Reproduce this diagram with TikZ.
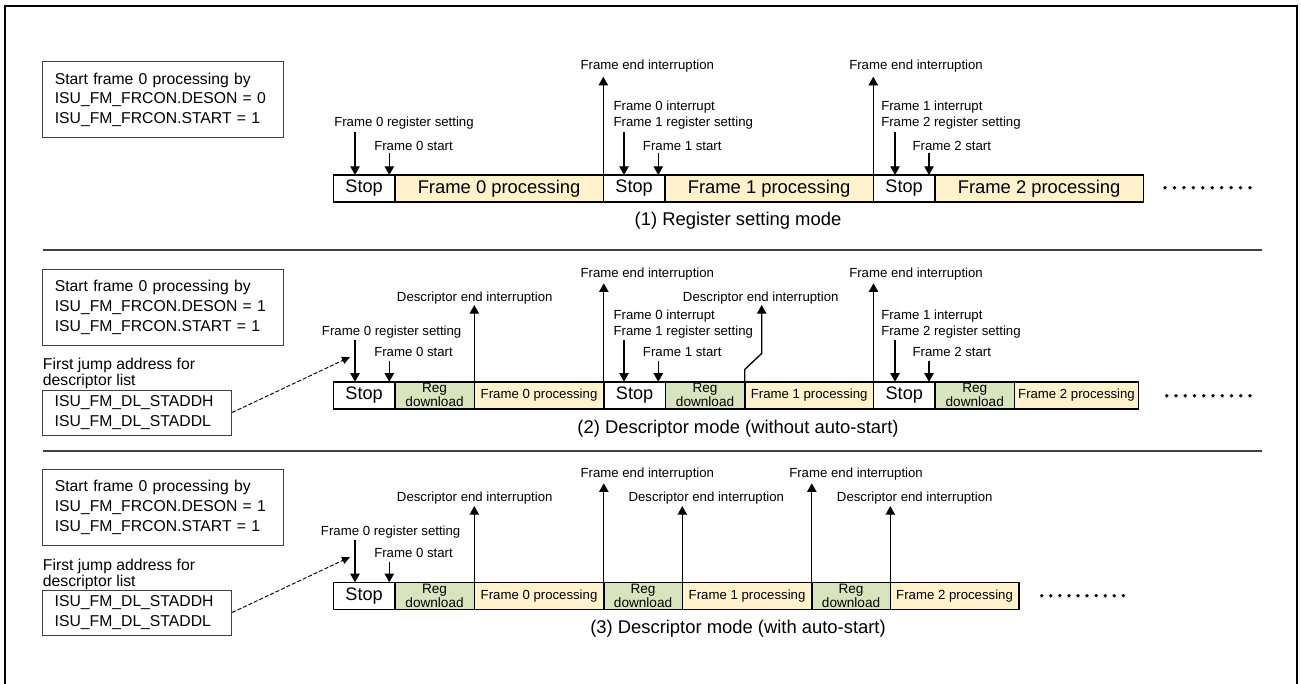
\documentclass[tikz,border=0pt]{standalone}
\usepackage{fontspec}
\setmainfont{Liberation Sans}
\usetikzlibrary{positioning,arrows.meta}
\definecolor{procfill}{HTML}{FFF2CC}
\definecolor{regfill}{HTML}{D7E4BD}
\definecolor{rulegray}{HTML}{404040}
\newdimen\pxu
\pxu=0.75pt
\tikzset{
  seg/.style={draw, line width=1.1pt, outer sep=0pt, inner sep=0pt, minimum height=27\pxu, anchor=west},
  stopseg/.style={seg, fill=white, font=\fontsize{13.6}{14}\selectfont},
  bigproc/.style={seg, fill=procfill, font=\fontsize{13.8}{14}\selectfont},
  proc/.style={seg, fill=procfill, font=\fontsize{9.9}{11}\selectfont},
  regseg/.style={seg, fill=regfill, align=center, font=\fontsize{10.2}{9.4}\selectfont},
  lbl/.style={anchor=west, inner sep=0pt, align=left, font=\fontsize{9.9}{12}\selectfont},
  modecap/.style={inner sep=0pt, font=\fontsize{13.8}{16}\selectfont},
  setbox/.style={draw=rulegray, line width=0.75pt, align=left, inner xsep=12\pxu, inner ysep=0pt, font=\fontsize{11.8}{14.8}\selectfont},
  jumpnote/.style={anchor=west, inner sep=0pt, align=left, font=\fontsize{11.8}{10.5}\selectfont},
  sig/.style={-{Triangle[length=6.5pt,width=7pt]}, line width=1pt},
  jump/.style={-{Triangle[length=6pt,width=5.5pt]}, line width=0.7pt, dash pattern=on 3pt off 1.5pt}
}
\begin{document}
\begin{tikzpicture}[x=0.75pt, y=-0.75pt]
  \useasboundingbox (0,0) rectangle (1301,684);
  \draw[line width=1.8pt] (5,690) -- (5,6) -- (1297,6) -- (1297,690);
  \draw[rulegray, line width=0.8pt] (43,250) -- (1262,250);
  \draw[rulegray, line width=0.8pt] (43,451) -- (1262,451);

  % (1) register setting mode
  \node[setbox, text width=217\pxu, minimum height=76\pxu] (cfg1) at (163.3,99.8) {Start frame 0 processing by\\ISU\_FM\_FRCON.DESON = 0\\ISU\_FM\_FRCON.START = 1};

  \node[stopseg, minimum width=61.5\pxu] (s1stopA) at (333.3,188.5) {Stop};
  \node[bigproc, minimum width=208.5\pxu, right=0pt of s1stopA] (s1frameA) {Frame 0 processing};
  \node[stopseg, minimum width=61.5\pxu, right=0pt of s1frameA] (s1stopB) {Stop};
  \node[bigproc, minimum width=208.5\pxu, right=0pt of s1stopB] (s1frameB) {Frame 1 processing};
  \node[stopseg, minimum width=61.5\pxu, right=0pt of s1frameB] (s1stopC) {Stop};
  \node[bigproc, minimum width=208.5\pxu, right=0pt of s1stopC] (s1frameC) {Frame 2 processing};

  \node[lbl] (l1setA) at (334,123.3) {Frame 0 register setting};
  \node[lbl] (l1goA) at (374,145.7) {Frame 0 start};
  \node[lbl] (l1endA) at (580.3,66) {Frame end interruption};
  \node[lbl] (l1setB) at (613.3,115.3) {Frame 0 interrupt\\Frame 1 register setting};
  \node[lbl] (l1goB) at (642.7,145.7) {Frame 1 start};
  \node[lbl] (l1endB) at (849,66) {Frame end interruption};
  \node[lbl] (l1setC) at (881,115.3) {Frame 1 interrupt\\Frame 2 register setting};
  \node[lbl] (l1goC) at (912.3,145.7) {Frame 2 start};
  \node[modecap] (cap1) at (738,220.7) {(1) Register setting mode};

  \coordinate (t1end) at (0,76.7);
  \coordinate (a1setA) at (355,131.7);
  \coordinate (a1goA) at (389.3,153);
  \coordinate (a1setB) at (624,131.7);
  \coordinate (a1goB) at (658.3,153);
  \coordinate (a1setC) at (895,131.7);
  \coordinate (a1goC) at (929,153);
  \draw[sig] (a1setA) -- (a1setA |- s1stopA.north);
  \draw[sig] (a1goA) -- (a1goA |- s1stopA.north);
  \draw[sig] (a1setB) -- (a1setB |- s1stopB.north);
  \draw[sig] (a1goB) -- (a1goB |- s1stopB.north);
  \draw[sig] (a1setC) -- (a1setC |- s1stopC.north);
  \draw[sig] (a1goC) -- (a1goC |- s1stopC.north);
  \draw[sig] (s1frameA.north east) -- (s1frameA.north east |- t1end);
  \draw[sig] (s1frameB.north east) -- (s1frameB.north east |- t1end);
  \foreach \k in {0,...,9} \fill (1165+9.44*\k,187.7) circle (1.4pt);

  % (2) descriptor mode without auto-start
  \node[setbox, text width=217\pxu, minimum height=76\pxu] (cfg2) at (163.3,307.3) {Start frame 0 processing by\\ISU\_FM\_FRCON.DESON = 1\\ISU\_FM\_FRCON.START = 1};
  \node[jumpnote] (jmp2) at (42.7,373.7) {First jump address for\\descriptor list};
  \node[setbox, text width=165\pxu, minimum height=45\pxu] (addr2) at (137.2,412.5) {ISU\_FM\_DL\_STADDH\\ISU\_FM\_DL\_STADDL};

  \node[stopseg, minimum width=61.5\pxu] (s2stopA) at (333.3,395.3) {Stop};
  \node[regseg, minimum width=79.5\pxu, right=0pt of s2stopA] (s2regA) {Reg\\download};
  \node[proc, minimum width=129.5\pxu, right=0pt of s2regA] (s2frameA) {Frame 0 processing};
  \node[stopseg, minimum width=61.5\pxu, right=0pt of s2frameA] (s2stopB) {Stop};
  \node[regseg, minimum width=79.5\pxu, right=0pt of s2stopB] (s2regB) {Reg\\download};
  \node[proc, minimum width=128.7\pxu, right=0pt of s2regB] (s2frameB) {Frame 1 processing};
  \node[stopseg, minimum width=61.5\pxu, right=0pt of s2frameB] (s2stopC) {Stop};
  \node[regseg, minimum width=79.5\pxu, right=0pt of s2stopC] (s2regC) {Reg\\download};
  \node[proc, minimum width=124\pxu, right=0pt of s2regC] (s2frameC) {Frame 2 processing};

  \node[lbl] (l2setA) at (321.7,331.7) {Frame 0 register setting};
  \node[lbl] (l2goA) at (374,352.3) {Frame 0 start};
  \node[lbl] (l2descA) at (396.7,297.7) {Descriptor end interruption};
  \node[lbl] (l2endA) at (580.3,274.3) {Frame end interruption};
  \node[lbl] (l2setB) at (613.3,323.7) {Frame 0 interrupt\\Frame 1 register setting};
  \node[lbl] (l2goB) at (642.7,352.3) {Frame 1 start};
  \node[lbl] (l2descB) at (682.7,297.7) {Descriptor end interruption};
  \node[lbl] (l2endB) at (849,274.3) {Frame end interruption};
  \node[lbl] (l2setC) at (881,323.7) {Frame 1 interrupt\\Frame 2 register setting};
  \node[lbl] (l2goC) at (912.3,352.3) {Frame 2 start};
  \node[modecap] (cap2) at (738,428.3) {(2) Descriptor mode (without auto-start)};

  \coordinate (t2end) at (0,283.3);
  \coordinate (t2desc) at (0,305);
  \coordinate (a2setA) at (355,340);
  \coordinate (a2goA) at (389.3,360.7);
  \coordinate (a2setB) at (624,340);
  \coordinate (a2goB) at (658.3,360.7);
  \coordinate (a2setC) at (895,340);
  \coordinate (a2goC) at (929,360.7);
  \coordinate (a2descB) at (761.7,305);
  \coordinate (j2tip) at (350,357);
  \draw[sig] (a2setA) -- (a2setA |- s2stopA.north);
  \draw[sig] (a2goA) -- (a2goA |- s2stopA.north);
  \draw[sig] (a2setB) -- (a2setB |- s2stopB.north);
  \draw[sig] (a2goB) -- (a2goB |- s2stopB.north);
  \draw[sig] (a2setC) -- (a2setC |- s2stopC.north);
  \draw[sig] (a2goC) -- (a2goC |- s2stopC.north);
  \draw[sig] (s2regA.north east) -- (s2regA.north east |- t2desc);
  \draw[sig] (s2frameA.north east) -- (s2frameA.north east |- t2end);
  \draw[sig] (s2frameB.north west) -- ++(0,-12.4) -- ++(16.9,-16) -- (a2descB);
  \draw[sig] (s2frameB.north east) -- (s2frameB.north east |- t2end);
  \draw[jump] (addr2.east) -- (j2tip);
  \foreach \k in {0,...,9} \fill (1166.7+9.26*\k,395.7) circle (1.4pt);

  % (3) descriptor mode with auto-start
  \node[setbox, text width=217\pxu, minimum height=76\pxu] (cfg3) at (163.3,507.5) {Start frame 0 processing by\\ISU\_FM\_FRCON.DESON = 1\\ISU\_FM\_FRCON.START = 1};
  \node[jumpnote] (jmp3) at (42.7,574.3) {First jump address for\\descriptor list};
  \node[setbox, text width=165\pxu, minimum height=45\pxu] (addr3) at (137.2,612.5) {ISU\_FM\_DL\_STADDH\\ISU\_FM\_DL\_STADDL};

  \node[stopseg, minimum width=61.5\pxu] (s3stopA) at (333.3,595.8) {Stop};
  \node[regseg, minimum width=79.5\pxu, right=0pt of s3stopA] (s3regA) {Reg\\download};
  \node[proc, minimum width=129.5\pxu, right=0pt of s3regA] (s3frameA) {Frame 0 processing};
  \node[regseg, minimum width=78.5\pxu, right=0pt of s3frameA] (s3regB) {Reg\\download};
  \node[proc, minimum width=129.5\pxu, right=0pt of s3regB] (s3frameB) {Frame 1 processing};
  \node[regseg, minimum width=78.5\pxu, right=0pt of s3frameB] (s3regC) {Reg\\download};
  \node[proc, minimum width=128.5\pxu, right=0pt of s3regC] (s3frameC) {Frame 2 processing};

  \node[lbl] (l3setA) at (320.7,531.7) {Frame 0 register setting};
  \node[lbl] (l3goA) at (374,553.3) {Frame 0 start};
  \node[lbl] (l3descA) at (396.7,497.7) {Descriptor end interruption};
  \node[lbl] (l3endA) at (580.3,474.3) {Frame end interruption};
  \node[lbl] (l3descB) at (628.3,497.7) {Descriptor end interruption};
  \node[lbl] (l3endB) at (789,474.3) {Frame end interruption};
  \node[lbl] (l3descC) at (836.7,497.7) {Descriptor end interruption};
  \node[modecap] (cap3) at (738,629) {(3) Descriptor mode (with auto-start)};

  \coordinate (t3end) at (0,483.3);
  \coordinate (t3desc) at (0,506);
  \coordinate (a3setA) at (355,540);
  \coordinate (a3goA) at (389.3,561.7);
  \coordinate (j3tip) at (350,557);
  \draw[sig] (a3setA) -- (a3setA |- s3stopA.north);
  \draw[sig] (a3goA) -- (a3goA |- s3stopA.north);
  \draw[sig] (s3regA.north east) -- (s3regA.north east |- t3desc);
  \draw[sig] (s3frameA.north east) -- (s3frameA.north east |- t3end);
  \draw[sig] (s3regB.north east) -- (s3regB.north east |- t3desc);
  \draw[sig] (s3frameB.north east) -- (s3frameB.north east |- t3end);
  \draw[sig] (s3regC.north east) -- (s3regC.north east |- t3desc);
  \draw[jump] (addr3.east) -- (j3tip);
  \foreach \k in {0,...,9} \fill (1041.7+9.07*\k,595.7) circle (1.4pt);
\end{tikzpicture}
\end{document}
